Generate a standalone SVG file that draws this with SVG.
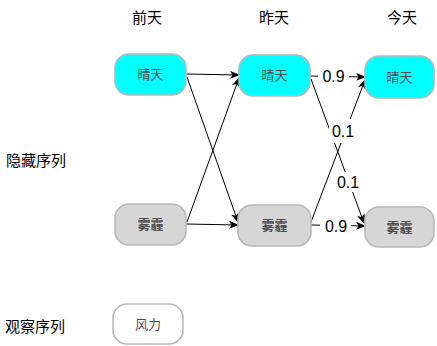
<svg xmlns="http://www.w3.org/2000/svg" width="437" height="346" viewBox="0 0 437 346">
<style>
.hdr{font-family:"Liberation Sans","Noto Sans CJK SC",sans-serif;font-size:15px;fill:#000;text-anchor:middle}
.side{font-family:"Liberation Sans","Noto Sans CJK SC",sans-serif;font-size:15px;fill:#000}
.nt{font-family:"Liberation Sans","Noto Sans CJK SC",sans-serif;font-size:13px;fill:#4d4d4d;text-anchor:middle;dominant-baseline:central}
.bold{font-weight:bold}
.sun{fill:#00ffff;stroke:#b8b8b8;stroke-width:1.6}
.fog{fill:#d6d6d6;stroke:#b8b8b8;stroke-width:1.6}
.obs{fill:#fff;stroke:#b8b8b8;stroke-width:1.6}
.edge{stroke:#000;stroke-width:1;fill:none;marker-end:url(#arr)}
.lbl{font-family:"Liberation Sans",Arial,sans-serif;font-size:16px;fill:#000;text-anchor:middle;dominant-baseline:central}
.lbg{fill:#fff}
</style>
<defs>
<marker id="arr" markerWidth="10" markerHeight="8" refX="9" refY="4" orient="auto" markerUnits="userSpaceOnUse">
<path d="M0,0 L10,4 L0,8 L2.5,4 z" fill="#000"/>
</marker>
</defs>
<text class="hdr" x="147" y="23">前天</text>
<text class="hdr" x="274" y="23">昨天</text>
<text class="hdr" x="402" y="23">今天</text>
<text class="side" x="6" y="166">隐藏序列</text>
<text class="side" x="5" y="332">观察序列</text>
<g id="connectors">
<line class="edge" x1="186" y1="74" x2="239" y2="75"/>
<line class="edge" x1="187" y1="77" x2="238" y2="222"/>
<line class="edge" x1="187" y1="222" x2="239" y2="78"/>
<line class="edge" x1="186" y1="224" x2="238" y2="225"/>
<line class="edge" x1="310" y1="76" x2="365" y2="77"/>
<line class="edge" x1="311" y1="79" x2="364" y2="223"/>
<line class="edge" x1="311" y1="222" x2="365" y2="80"/>
<line class="edge" x1="311" y1="225" x2="365" y2="226"/>
<rect class="lbg" x="318" y="67" width="31" height="18"/>
<text class="lbl" x="333.5" y="76">0.9</text>
<rect class="lbg" x="329" y="119" width="28" height="24"/>
<text class="lbl" x="343" y="131">0.1</text>
<rect class="lbg" x="335" y="172" width="26" height="20"/>
<text class="lbl" x="348" y="182">0.1</text>
<rect class="lbg" x="320" y="217" width="31" height="18"/>
<text class="lbl" x="336" y="226">0.9</text>
</g>
<g id="sunny-1"><rect class="sun" x="115" y="54" width="71" height="41" rx="14"/><text class="nt" x="150.5" y="74.5">晴天</text></g>
<g id="sunny-2"><rect class="sun" x="239" y="55" width="71" height="41" rx="14"/><text class="nt" x="274.5" y="75.5">晴天</text></g>
<g id="sunny-3"><rect class="sun" x="365" y="56" width="69" height="42" rx="14"/><text class="nt" x="399.5" y="77">晴天</text></g>
<g id="haze-1"><rect class="fog" x="115" y="204" width="71" height="41" rx="14"/><text class="nt bold" x="150.5" y="224.5">雾霾</text></g>
<g id="haze-2"><rect class="fog" x="238" y="205" width="73" height="41" rx="14"/><text class="nt bold" x="274.5" y="225.5">雾霾</text></g>
<g id="haze-3"><rect class="fog" x="365" y="207" width="69" height="40" rx="14"/><text class="nt bold" x="399.5" y="227">雾霾</text></g>
<g id="wind"><rect class="obs" x="113" y="304" width="70" height="40" rx="14"/><text class="nt" x="148" y="324">风力</text></g>
</svg>
